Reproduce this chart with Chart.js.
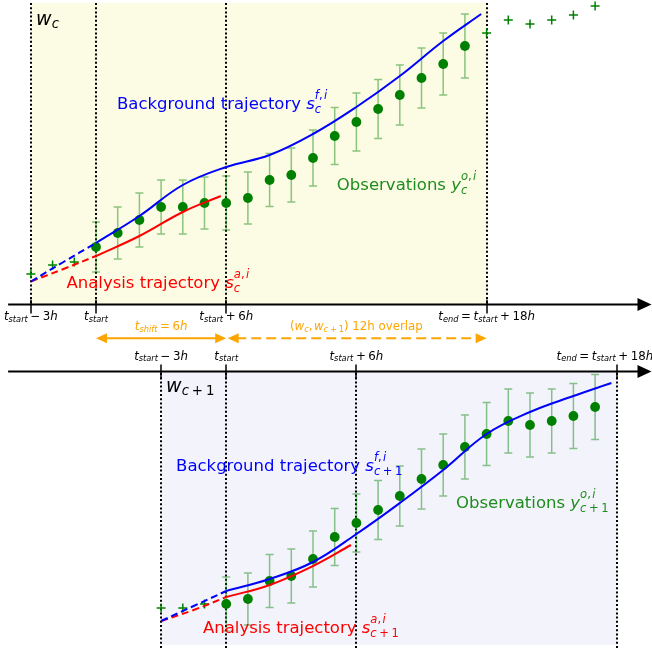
<!DOCTYPE html>
<html>
<head>
<meta charset="utf-8">
<script src="https://cdn.jsdelivr.net/npm/chart.js@4/dist/chart.umd.min.js"></script>
<style>
  html, body { margin: 0; padding: 0; background: #ffffff; }
  #wrap { width: 652px; height: 650px; }
</style>
</head>
<body>
<div id="wrap"><canvas id="chart" width="652" height="650"></canvas></div>
<script>
// Shared time axis in hours: t = 0 is t_start of window c, window c+1 starts 6 h later.
const windowStarts = [0, 6];
const spinUpHours = 3;
const windowHours = 18;

// Observations (state units) and their error half-widths
const obsHours  = [-3, -2, -1, 0, 1, 2, 3, 4, 5, 6, 7, 8, 9, 10, 11, 12, 13, 14, 15, 16, 17, 18, 19, 20, 21, 22, 23];
const obsValues = [2.6, 3.5, 3.8, 5.3, 6.7, 8.0, 9.3, 9.3, 9.7, 9.7, 10.2, 12.0, 12.5, 14.2, 16.4, 17.8, 19.1, 20.5, 22.2, 23.6, 25.4, 26.7, 28.0, 27.6, 28.0, 28.5, 29.4];
const obsErrors = [null, null, null, 2.5, 2.6, 2.7, 2.7, 2.7, 2.6, 2.7, 2.6, 2.65, 2.7, 2.8, 2.85, 2.9, 2.95, 3.0, 3.0, 3.1, 3.2, 3.15, 3.2, 3.2, 3.2, 3.25, 3.25];

// Window c trajectories
const bgCSpinHours   = [-3, -1.5, 0];
const bgCSpinValues  = [1.85, 3.8, 5.7];
const bgCHours       = [0, 2, 4, 6, 8, 10, 12, 14, 16, 17.75];
const bgCValues      = [5.7, 8.4, 11.5, 13.3, 14.5, 16.6, 19.3, 22.4, 25.9, 28.6];
const anCSpinHours   = [-3, -1.5, 0];
const anCSpinValues  = [1.85, 3.1, 4.4];
const anCHours       = [0, 2, 4, 5.75];
const anCValues      = [4.4, 6.4, 8.8, 10.4];

// Window c+1 trajectories
const bgC1SpinHours  = [3, 4.5, 6];
const bgC1SpinValues = [8.0, 9.5, 11.0];
const bgC1Hours      = [6, 8, 10, 12, 14, 16, 18, 20, 22, 23.75];
const bgC1Values     = [11.0, 12.2, 13.9, 16.7, 19.8, 23.1, 26.7, 28.9, 30.5, 31.8];
const anC1SpinHours  = [3, 4.5, 6];
const anC1SpinValues = [8.0, 9.1, 10.4];
const anC1Hours      = [6, 8, 10, 11.75];
const anC1Values     = [10.4, 11.6, 13.5, 15.6];

// Axis tick labels for each window
const tickLabelsC  = ['$t_{start}-3h$', '$t_{start}$', '$t_{start}+6h$', '$t_{end}=t_{start}+18h$'];
const tickLabelsC1 = ['$t_{start}-3h$', '$t_{start}$', '$t_{start}+6h$', '$t_{end}=t_{start}+18h$'];

const BLUE = '#0000ff', RED = '#ff0000', GREEN = '#008000', GREEN_TXT = 'rgb(30,140,30)';
const ORANGE = '#ffa500', ERR = 'rgba(0,128,0,0.45)';
const FAMILY = '"DejaVu Sans", sans-serif';

const pts = (xs, ys) => xs.map((x, i) => ({ x, y: ys[i] }));

function obsPoints(start, inside) {
  const out = [];
  obsHours.forEach((h, i) => {
    if (h < start - spinUpHours) return;
    const isIn = h >= start && h < start + windowHours;
    if (isIn === inside) out.push({ x: h, y: obsValues[i], err: obsErrors[i] });
  });
  return out;
}

function lineSet(data, color, axis, dashed) {
  return {
    data, yAxisID: axis, borderColor: color, borderWidth: 2,
    borderDash: dashed ? [7, 4] : [], pointRadius: 0, fill: false,
    tension: 0.4, order: 0
  };
}
function dotSet(data, axis) {
  return {
    data, yAxisID: axis, showLine: false, pointRadius: 4.9, pointStyle: 'circle',
    backgroundColor: GREEN, borderColor: GREEN, borderWidth: 0, order: 1, errorBars: true
  };
}
function crossSet(data, axis) {
  return {
    data, yAxisID: axis, showLine: false, pointRadius: 4.5, pointStyle: 'cross',
    borderColor: GREEN, borderWidth: 1.5, order: 1
  };
}

const datasets = [
  lineSet(pts(bgCSpinHours, bgCSpinValues), BLUE, 'yTop', true),
  lineSet(pts(bgCHours, bgCValues), BLUE, 'yTop', false),
  lineSet(pts(anCSpinHours, anCSpinValues), RED, 'yTop', true),
  lineSet(pts(anCHours, anCValues), RED, 'yTop', false),
  dotSet(obsPoints(windowStarts[0], true), 'yTop'),
  crossSet(obsPoints(windowStarts[0], false), 'yTop'),
  lineSet(pts(bgC1SpinHours, bgC1SpinValues), BLUE, 'yBot', true),
  lineSet(pts(bgC1Hours, bgC1Values), BLUE, 'yBot', false),
  lineSet(pts(anC1SpinHours, anC1SpinValues), RED, 'yBot', true),
  lineSet(pts(anC1Hours, anC1Values), RED, 'yBot', false),
  dotSet(obsPoints(windowStarts[1], true), 'yBot'),
  crossSet(obsPoints(windowStarts[1], false), 'yBot')
];

// ---- small mathtext-like renderer ----
function parseMath(src) {
  function parseSeq(str) {
    const items = []; let k = 0;
    while (k < str.length) {
      const ch = str[k];
      if (ch === '_' || ch === '^') {
        k++;
        let grp;
        if (str[k] === '{') {
          let depth = 1, j = k + 1;
          while (depth) { if (str[j] === '{') depth++; else if (str[j] === '}') depth--; j++; }
          grp = str.slice(k + 1, j - 1); k = j;
        } else { grp = str[k]; k++; }
        let last = items[items.length - 1];
        if (!last || !last.stack) { last = { stack: {} }; items.push(last); }
        last.stack[ch === '_' ? 'sub' : 'sup'] = parseSeq(grp);
        continue;
      }
      if (/[A-Za-z]/.test(ch)) items.push({ t: ch, i: true });
      else if ('+-='.includes(ch)) items.push({ sp: 0.22 }, { t: ch === '-' ? '\u2212' : ch, i: false }, { sp: 0.22 });
      else if (ch === ',') items.push({ t: ',', i: false }, { sp: 0.12 });
      else if (ch !== ' ') items.push({ t: ch, i: false });
      k++;
    }
    return items;
  }
  const out = [];
  src.split('$').forEach((p, idx) => {
    if (!p) return;
    if (idx % 2) out.push(...parseSeq(p)); else out.push({ t: p, i: false });
  });
  return out;
}
const fontFor = (it, s) => (it ? 'italic ' : '') + s + 'px ' + FAMILY;
function layoutItems(ctx, items, size, x0, base, out) {
  let x = x0;
  for (const it of items) {
    if (it.sp != null) { x += it.sp * size; }
    else if (it.t != null) {
      ctx.font = fontFor(it.i, size);
      out.push({ t: it.t, i: it.i, s: size, x, y: base });
      x += ctx.measureText(it.t).width;
    } else {
      const st = it.stack, ss = size * 0.7, both = st.sub && st.sup;
      let w = 0;
      if (st.sup) w = Math.max(w, layoutItems(ctx, st.sup, ss, x, base - size * (both ? 0.62 : 0.45), out) - x);
      if (st.sub) w = Math.max(w, layoutItems(ctx, st.sub, ss, x, base + size * (both ? 0.26 : 0.15), out) - x);
      x += w;
    }
  }
  return x;
}
function drawLabel(ctx, src, x, y, size, color, align) {
  const runs = [];
  const w = layoutItems(ctx, parseMath(src), size, 0, 0, runs);
  const x0 = align === 'center' ? x - w / 2 : x;
  ctx.save();
  ctx.fillStyle = color; ctx.textAlign = 'left'; ctx.textBaseline = 'alphabetic';
  for (const r of runs) { ctx.font = fontFor(r.i, r.s); ctx.fillText(r.t, x0 + r.x, y + r.y); }
  ctx.restore();
}

// ---- panel decorations (x in hours, y in the panel's state units) ----
const panels = [
  {
    axis: 'yTop', start: windowStarts[0], axisAt: -0.45, regionTo: 29.7, lineTo: 29.7,
    fill: '#fcfce4', tickFrom: 5, tickTo: 9, tickLabelAt: -2.0, tickLabels: tickLabelsC,
    tickShift: [0, 0, 0, 0], name: '$w_c$', nameAt: [-2.76, 27.5],
    labels: [
      { text: 'Background trajectory $s_c^{f,i}$', at: [0.97, 19.1], color: BLUE },
      { text: 'Analysis trajectory $s_c^{a,i}$', at: [-1.36, 1.2], color: RED },
      { text: 'Observations $y_c^{o,i}$', at: [11.1, 11.0], color: GREEN_TXT }
    ]
  },
  {
    axis: 'yBot', start: windowStarts[1], axisAt: 32.95, regionTo: 5.6, lineTo: 5.3,
    fill: '#f3f3fb', tickFrom: 7, tickTo: 8, tickLabelAt: 34.15, tickLabels: tickLabelsC1,
    tickShift: [0, 0, 0, -0.55], name: '$w_{c+1}$', nameAt: [3.23, 30.93],
    labels: [
      { text: 'Background trajectory $s_{c+1}^{f,i}$', at: [3.69, 23.0], color: BLUE },
      { text: 'Observations $y_{c+1}^{o,i}$', at: [16.59, 19.3], color: GREEN_TXT },
      { text: 'Analysis trajectory $s_{c+1}^{a,i}$', at: [4.93, 6.8], color: RED }
    ]
  }
];
const tickOffsets = [-spinUpHours, 0, 6, windowHours];
const axisStartHour = -4.05;
const shiftArrowAt = -3.83, shiftTextAt = -3.0;

function arrowHead(ctx, tipX, y, dir, len, half) {
  ctx.beginPath();
  ctx.moveTo(tipX, y);
  ctx.lineTo(tipX - dir * len, y - half);
  ctx.lineTo(tipX - dir * len, y + half);
  ctx.closePath();
  ctx.fill();
}

const schematic = {
  id: 'schematic',
  beforeDatasetsDraw(chart) {
    const { ctx } = chart, x = chart.scales.x;
    panels.forEach(p => {
      const y = chart.scales[p.axis];
      const x0 = x.getPixelForValue(p.start - spinUpHours), x1 = x.getPixelForValue(p.start + windowHours);
      const ya = y.getPixelForValue(p.axisAt), yr = y.getPixelForValue(p.regionTo), yl = y.getPixelForValue(p.lineTo);
      ctx.save();
      ctx.fillStyle = p.fill;
      ctx.fillRect(x0, Math.min(ya, yr), x1 - x0, Math.abs(ya - yr));
      ctx.strokeStyle = '#000'; ctx.lineWidth = 2; ctx.setLineDash([2, 2.2]);
      tickOffsets.forEach(o => {
        const px = Math.round(x.getPixelForValue(p.start + o));
        ctx.beginPath(); ctx.moveTo(px, yl); ctx.lineTo(px, ya); ctx.stroke();
      });
      ctx.restore();
    });
    // error bars under the observation dots
    chart.data.datasets.forEach(ds => {
      if (!ds.errorBars) return;
      const y = chart.scales[ds.yAxisID];
      ctx.save();
      ctx.strokeStyle = ERR; ctx.lineWidth = 1.5;
      ds.data.forEach(d => {
        if (d.err == null) return;
        const px = x.getPixelForValue(d.x), top = y.getPixelForValue(d.y + d.err), bot = y.getPixelForValue(d.y - d.err);
        ctx.beginPath();
        ctx.moveTo(px, top); ctx.lineTo(px, bot);
        ctx.moveTo(px - 4, top); ctx.lineTo(px + 4, top);
        ctx.moveTo(px - 4, bot); ctx.lineTo(px + 4, bot);
        ctx.stroke();
      });
      ctx.restore();
    });
  },
  afterDatasetsDraw(chart) {
    const { ctx, chartArea } = chart, x = chart.scales.x;
    panels.forEach(p => {
      const y = chart.scales[p.axis];
      const ya = y.getPixelForValue(p.axisAt);
      ctx.save();
      ctx.strokeStyle = '#000'; ctx.fillStyle = '#000'; ctx.lineWidth = 2;
      ctx.beginPath(); ctx.moveTo(x.getPixelForValue(axisStartHour), ya); ctx.lineTo(chartArea.right - 12, ya); ctx.stroke();
      arrowHead(ctx, chartArea.right - 0.5, ya, 1, 14, 6.5);
      ctx.lineWidth = 1.5;
      tickOffsets.forEach((o, i) => {
        const px = Math.round(x.getPixelForValue(p.start + o));
        ctx.beginPath(); ctx.moveTo(px, ya - p.tickFrom); ctx.lineTo(px, ya + p.tickTo); ctx.stroke();
        drawLabel(ctx, p.tickLabels[i], x.getPixelForValue(p.start + o + p.tickShift[i]),
          y.getPixelForValue(p.tickLabelAt), 11.8, '#000', 'center');
      });
      ctx.restore();
      drawLabel(ctx, p.name, x.getPixelForValue(p.nameAt[0]), y.getPixelForValue(p.nameAt[1]), 19, '#000', 'left');
      p.labels.forEach(l => drawLabel(ctx, l.text, x.getPixelForValue(l.at[0]), y.getPixelForValue(l.at[1]), 16.5, l.color, 'left'));
    });

    // shift and overlap arrows between the two windows
    const yTop = chart.scales.yTop;
    const ay = yTop.getPixelForValue(shiftArrowAt);
    const s0 = x.getPixelForValue(windowStarts[0]);
    const s1 = x.getPixelForValue(windowStarts[1]);
    const e0 = x.getPixelForValue(windowStarts[0] + windowHours);
    ctx.save();
    ctx.strokeStyle = ORANGE; ctx.fillStyle = ORANGE; ctx.lineWidth = 2;
    ctx.beginPath(); ctx.moveTo(s0 + 8, ay); ctx.lineTo(s1 - 8, ay); ctx.stroke();
    arrowHead(ctx, s0, ay, -1, 11, 5);
    arrowHead(ctx, s1, ay, 1, 11, 5);
    ctx.setLineDash([10, 5]);
    ctx.beginPath(); ctx.moveTo(s1 + 10, ay); ctx.lineTo(e0 - 9, ay); ctx.stroke();
    ctx.setLineDash([]);
    arrowHead(ctx, s1 + 1.5, ay, -1, 11, 5);
    arrowHead(ctx, e0, ay, 1, 11, 5);
    ctx.restore();
    const ty = yTop.getPixelForValue(shiftTextAt);
    drawLabel(ctx, '$t_{shift}=6h$', x.getPixelForValue((windowStarts[0] + windowStarts[1]) / 2), ty, 11.8, ORANGE, 'center');
    drawLabel(ctx, '$(w_c, w_{c+1})$ 12h overlap', x.getPixelForValue((windowStarts[1] + windowStarts[0] + windowHours) / 2), ty, 11.8, ORANGE, 'center');
  }
};

new Chart(document.getElementById('chart'), {
  type: 'line',
  data: { datasets },
  options: {
    responsive: false,
    animation: false,
    devicePixelRatio: 1,
    events: [],
    layout: { padding: 0, autoPadding: false },
    plugins: { legend: { display: false }, tooltip: { enabled: false } },
    scales: {
      x:    { type: 'linear', min: -4.424, max: 25.622, display: false },
      yTop: { type: 'linear', min: -35, max: 30, display: false },
      yBot: { type: 'linear', min: 5.1, max: 70.1, display: false }
    }
  },
  plugins: [schematic]
});
</script>
</body>
</html>
